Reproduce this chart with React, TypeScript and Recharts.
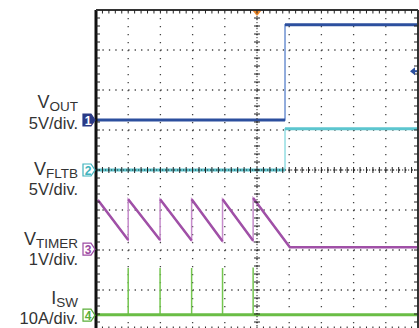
import React from 'react';
import { LineChart, Line, XAxis, YAxis, CartesianGrid, ReferenceLine, ReferenceDot } from 'recharts';

// scope graticule, everything in divisions (10 x 8)
const xTicks = [0, 1, 2, 3, 4, 5, 6, 7, 8, 9, 10];
const yTicks = [0, 1, 2, 3, 4, 5, 6, 7, 8];

// CH1 VOUT
const voutX = [0, 5.87, 5.87, 10];
const voutY = [5.25, 5.25, 7.63, 7.63];

// CH2 VFLTB
const fltbX = [0, 5.87, 5.87, 10];
const fltbY = [4.0, 4.0, 5.03, 5.03];

// CH3 VTIMER (sawtooth then settles)
const timerX = [0.06, 1.0, 1.0, 1.99, 1.99, 2.97, 2.97, 3.93, 3.93, 4.88, 4.88, 6.02, 10];
const timerY = [3.25, 2.25, 3.27, 2.25, 3.27, 2.24, 3.27, 2.22, 3.27, 2.23, 3.3, 2.07, 2.07];

// CH4 ISW (baseline + current spikes)
const iswBase = 0.38;
const spikeX = [1.0, 1.99, 2.97, 3.93, 4.88];
const spikeTop = [1.55, 1.55, 1.55, 1.55, 1.56];

const channels = [
  { main: 'V', sub: 'OUT', scale: '5V/div.', num: '1', color: '#2a3a86', level: 5.25, filled: true },
  { main: 'V', sub: 'FLTB', scale: '5V/div.', num: '2', color: '#3fb3bd', level: 4.0, filled: false },
  { main: 'V', sub: 'TIMER', scale: '1V/div.', num: '3', color: '#9c4aa3', level: 2.02, filled: false },
  { main: 'I', sub: 'SW', scale: '10A/div.', num: '4', color: '#5aae38', level: 0.37, filled: false },
];
// baseline offsets of the two label lines, relative to the channel marker
const labelOffsets = [[-12, 9], [5, 25], [-4, 16], [-11, 9]];

const FONT = '"Liberation Sans", Arial, sans-serif';

function toPts(xs: number[], ys: number[]) {
  return xs.map((x, i) => ({ x, y: ys[i] }));
}

// thick part: drop the (near) vertical edges, they are drawn thin
function flatParts(xs: number[], ys: number[]) {
  const out: { x: number; y: number | null }[] = [];
  xs.forEach((x, i) => {
    out.push({ x, y: ys[i] });
    if (i < xs.length - 1 && Math.abs(xs[i + 1] - x) < 0.05) out.push({ x, y: null });
  });
  return out;
}

const iswX: number[] = [0];
const iswY: number[] = [iswBase];
spikeX.forEach((x, i) => {
  iswX.push(x, x, x);
  iswY.push(iswBase, spikeTop[i], iswBase);
});
iswX.push(10);
iswY.push(iswBase);

const traces = [
  { key: 'vout', xs: voutX, ys: voutY, color: '#2c4f9e', edge: '#6f92d2', w: 3 },
  { key: 'fltb', xs: fltbX, ys: fltbY, color: '#5cc6cf', edge: '#93dde3', w: 3 },
  { key: 'timer', xs: timerX, ys: timerY, color: '#a050a7', edge: '#c68ccb', w: 2.5 },
  { key: 'isw', xs: iswX, ys: iswY, color: '#6abd45', edge: '#74c64f', w: 3 },
];

const frameEdge = (side: string) => (p: any) => {
  const x1 = Math.min(p.x1, p.x2), x2 = Math.max(p.x1, p.x2);
  const y1 = Math.min(p.y1, p.y2), y2 = Math.max(p.y1, p.y2);
  const vertical = side === 'left' || side === 'right';
  const n = vertical ? 40 : 50;
  const ticks = [];
  for (let k = 1; k < n; k++) {
    if (vertical) {
      const y = y1 + ((y2 - y1) * k) / n;
      const dx = side === 'left' ? 4 : -4;
      ticks.push(<line key={k} x1={x1} x2={x1 + dx} y1={y} y2={y} stroke="#222" strokeWidth={1} />);
    } else {
      const x = x1 + ((x2 - x1) * k) / n;
      const dy = side === 'top' ? 3.5 : -3.5;
      ticks.push(<line key={k} x1={x} x2={x} y1={y1} y2={y1 + dy} stroke="#222" strokeWidth={1} />);
    }
  }
  const thick = side === 'left' ? 3 : 2;
  const col = side === 'left' ? '#111' : '#333';
  return (
    <g>
      <line x1={x1} y1={y1} x2={x2} y2={y2} stroke={col} strokeWidth={thick} />
      {ticks}
    </g>
  );
};

const centerAxis = (vertical: boolean) => (p: any) => {
  const x1 = Math.min(p.x1, p.x2), x2 = Math.max(p.x1, p.x2);
  const y1 = Math.min(p.y1, p.y2), y2 = Math.max(p.y1, p.y2);
  const n = vertical ? 40 : 50;
  const ticks = [];
  for (let k = 1; k < n; k++) {
    if (vertical) {
      const y = y1 + ((y2 - y1) * k) / n;
      ticks.push(<line key={k} x1={x1 - 3} x2={x1 + 3} y1={y} y2={y} stroke="#222" strokeWidth={1} />);
    } else {
      const x = x1 + ((x2 - x1) * k) / n;
      ticks.push(<line key={k} x1={x} x2={x} y1={y1 - 3} y2={y1 + 3} stroke="#222" strokeWidth={1} />);
    }
  }
  return (
    <g>
      <line x1={x1} y1={y1} x2={x2} y2={y2} stroke="#222" strokeWidth={1} strokeDasharray="1.2 1.8" />
      {ticks}
      {vertical && (
        <path d={`M${x1 - 5},${y1} L${x1 + 5},${y1} L${x1},${y1 + 6} Z`} fill="#f08a2c" />
      )}
    </g>
  );
};

const channelMarker = (i: number) => (p: any) => {
  const ch = channels[i];
  const { cx, cy } = p;
  const [d1, d2] = labelOffsets[i];
  const tx = cx - 18;
  return (
    <g fontFamily={FONT}>
      <path
        d={`M${cx - 13},${cy - 6} H${cx - 5} L${cx - 1},${cy} L${cx - 5},${cy + 6} H${cx - 13} Z`}
        fill={ch.filled ? ch.color : '#fff'}
        stroke={ch.color}
        strokeWidth={1.2}
      />
      <text x={cx - 8} y={cy + 4.5} textAnchor="middle" fontSize={12} fontWeight="bold" fill={ch.filled ? '#fff' : ch.color}>
        {ch.num}
      </text>
      <text x={tx} y={cy + d1} textAnchor="end" fill="#333">
        <tspan fontSize={18}>{ch.main}</tspan>
        <tspan fontSize={13.5} dy={3}>{ch.sub}</tspan>
      </text>
      <text x={tx} y={cy + d2} textAnchor="end" fill="#333" fontSize={16.5}>
        {ch.scale}
      </text>
    </g>
  );
};

const triggerMarker = (p: any) => {
  const { cx, cy } = p;
  return (
    <g>
      <path d={`M${cx - 8},${cy} L${cx - 3},${cy - 4} L${cx - 3},${cy + 4} Z`} fill="#2c4f9e" />
      <line x1={cx - 5} x2={cx - 1} y1={cy} y2={cy} stroke="#2c4f9e" strokeWidth={2} />
    </g>
  );
};

export default function App() {
  return (
    <div style={{ position: 'absolute', left: 0, top: 0, width: 419, height: 328, overflow: 'hidden', background: '#fff' }}>
      <LineChart width={419} height={340} margin={{ top: 10, right: 1, bottom: 10, left: 96 }}>
        <XAxis type="number" dataKey="x" domain={[0, 10]} ticks={xTicks} hide allowDataOverflow />
        <YAxis type="number" dataKey="y" domain={[0, 8]} ticks={yTicks} hide allowDataOverflow />
        <CartesianGrid vertical={false} stroke="#444" strokeWidth={1.3} strokeDasharray="1.3 5.14" />
        <CartesianGrid horizontal={false} stroke="#444" strokeWidth={1.3} strokeDasharray="1.3 6.7" />

        {traces.map((t) => (
          <Line
            key={t.key + '-edge'}
            data={toPts(t.xs, t.ys)}
            dataKey="y"
            type="linear"
            stroke={t.edge}
            strokeWidth={1.5}
            dot={false}
            activeDot={false}
            isAnimationActive={false}
          />
        ))}
        {traces.map((t) => (
          <Line
            key={t.key}
            data={flatParts(t.xs, t.ys)}
            dataKey="y"
            type="linear"
            stroke={t.color}
            strokeWidth={t.w}
            dot={false}
            activeDot={false}
            isAnimationActive={false}
          />
        ))}

        <ReferenceLine x={5} shape={centerAxis(true)} />
        <ReferenceLine y={4} shape={centerAxis(false)} />
        <ReferenceLine x={0} shape={frameEdge('left')} />
        <ReferenceLine x={10} shape={frameEdge('right')} />
        <ReferenceLine y={8} shape={frameEdge('top')} />
        <ReferenceLine y={0} shape={frameEdge('bottom')} />

        {channels.map((ch, i) => (
          <ReferenceDot key={ch.num} x={0} y={ch.level} r={0} shape={channelMarker(i)} />
        ))}
        <ReferenceDot x={10} y={6.47} r={0} shape={triggerMarker} />
      </LineChart>
    </div>
  );
}
